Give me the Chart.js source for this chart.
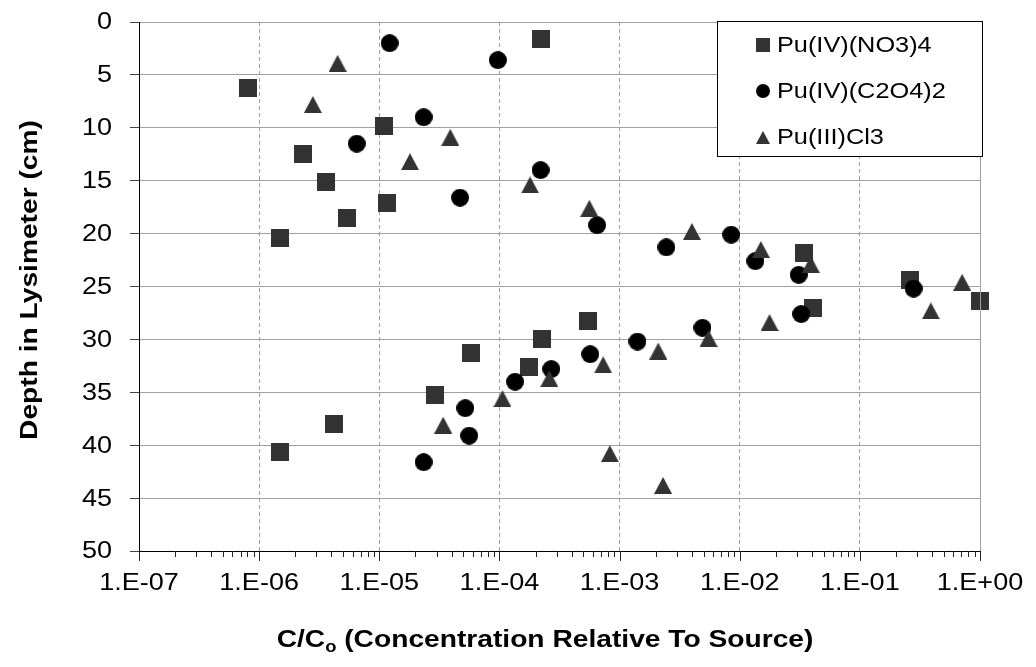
<!DOCTYPE html>
<html>
<head>
<meta charset="utf-8">
<title>Plutonium depth profiles in lysimeter</title>
<script src="https://cdn.jsdelivr.net/npm/chart.js@4.4.1/dist/chart.umd.min.js"></script>
<style>
  html, body { margin: 0; padding: 0; background: #ffffff; }
  #wrap { width: 1036px; height: 667px; position: relative; }
  canvas { display: block; }
</style>
</head>
<body>
<div id="wrap"><canvas id="chart" width="1036" height="667"></canvas></div>
<script>
// ---- data ---------------------------------------------------------------
const seriesNames = ['Pu(IV)(NO3)4', 'Pu(IV)(C2O4)2', 'Pu(III)Cl3'];

// Pu(IV)(NO3)4 : C/Co and depth (cm)
const nitrateConc  = [8.1e-7, 2.2e-4, 1.1e-5, 2.3e-6, 3.6e-6, 1.17e-5, 5.4e-6, 1.5e-6, 1.5e-6, 4.2e-6,
                      5.8e-5, 2.9e-5, 2.26e-4, 1.76e-4, 5.5e-4, 3.4e-2, 0.26, 1.0, 4.1e-2];
const nitrateDepth = [6.2, 1.6, 9.8, 12.5, 15.1, 17.1, 18.5, 20.4, 40.6, 38.0,
                      31.3, 35.3, 30.0, 32.6, 28.3, 21.8, 24.4, 26.4, 27.0];

// Pu(IV)(C2O4)2
const oxalateConc  = [1.22e-5, 9.7e-5, 2.34e-5, 6.5e-6, 2.2e-4, 4.7e-5, 6.5e-4, 2.45e-3, 8.5e-3, 1.35e-2,
                      3.1e-2, 0.28, 3.25e-2, 4.9e-3, 1.41e-3, 5.7e-4, 2.34e-5, 5.2e-5, 5.6e-5, 1.35e-4, 2.7e-4];
const oxalateDepth = [2.0, 3.6, 9.0, 11.5, 14.0, 16.6, 19.2, 21.3, 20.1, 22.6,
                      23.9, 25.2, 27.6, 28.9, 30.2, 31.4, 41.6, 36.5, 39.1, 34.0, 32.8];

// Pu(III)Cl3
const chlorideConc  = [4.5e-6, 2.8e-6, 3.9e-5, 1.8e-5, 1.8e-4, 5.6e-4, 4.0e-3, 1.5e-2, 3.9e-2, 0.71,
                       1.0, 0.39, 1.77e-2, 5.5e-3, 2.1e-3, 7.3e-4, 8.3e-4, 2.3e-3, 3.4e-5, 1.06e-4, 2.6e-4];
const chlorideDepth = [3.9, 7.8, 10.9, 13.2, 15.4, 17.6, 19.8, 21.5, 22.9, 24.6,
                       26.4, 27.3, 28.4, 29.9, 31.1, 32.4, 40.8, 43.8, 38.1, 35.6, 33.7];

// axis ticks
const xTickValues = [1e-7, 1e-6, 1e-5, 1e-4, 1e-3, 1e-2, 1e-1, 1];
const xTickLabels = ['1.E-07', '1.E-06', '1.E-05', '1.E-04', '1.E-03', '1.E-02', '1.E-01', '1.E+00'];
const yTickValues = [0, 5, 10, 15, 20, 25, 30, 35, 40, 45, 50];
const yTickLabels = ['0', '5', '10', '15', '20', '25', '30', '35', '40', '45', '50'];

const yTitle = 'Depth in Lysimeter (cm)';
const xTitleParts = ['C/C', 'o', ' (Concentration Relative To Source)'];

// ---- marker sprites -----------------------------------------------------
function sprite(w, h, draw) {
  const c = document.createElement('canvas');
  c.width = w; c.height = h;
  const g = c.getContext('2d');
  draw(g, w, h);
  return c;
}
function squareSprite(s) {
  return sprite(s, s, (g, w, h) => { g.fillStyle = '#333333'; g.fillRect(0, 0, w, h); });
}
function circleSprite(d) {
  return sprite(d, d, (g, w, h) => {
    g.fillStyle = '#000000'; g.beginPath(); g.arc(w / 2, h / 2, w / 2, 0, Math.PI * 2); g.fill();
  });
}
function triangleSprite(w, h) {
  return sprite(w, h, (g) => {
    g.fillStyle = '#333333'; g.beginPath();
    g.moveTo(w / 2, 0); g.lineTo(w, h); g.lineTo(0, h); g.closePath(); g.fill();
  });
}
const markers = [squareSprite(18), circleSprite(18), triangleSprite(18, 17)];
const legendMarkers = [squareSprite(14), circleSprite(14), triangleSprite(14, 13)];

const toPoints = (xs, ys) => xs.map((x, i) => ({ x: x, y: ys[i] }));

// ---- text helpers (horizontally widened type) -------------------------------
const STRETCH = 1.15;
const FONT_FAMILY = '"Liberation Sans", Arial, sans-serif';

function widenedText(ctx, text, x, y, align, font, sx) {
  ctx.save();
  ctx.font = font;
  ctx.textBaseline = 'middle';
  ctx.textAlign = 'left';
  const w = ctx.measureText(text).width * sx;
  const left = align === 'center' ? x - w / 2 : (align === 'right' ? x - w : x);
  ctx.translate(left, y);
  ctx.scale(sx, 1);
  ctx.fillStyle = '#000000';
  ctx.fillText(text, 0, 0);
  ctx.restore();
}

// ---- decorations: tick labels, minor ticks, titles, legend ------------------
const decorations = {
  id: 'decorations',
  afterDraw(chart) {
    const ctx = chart.ctx;
    const xs = chart.scales.x, ys = chart.scales.y;
    const area = chart.chartArea;

    // solid right frame line
    ctx.save();
    ctx.strokeStyle = '#a0a0a0'; ctx.lineWidth = 1;
    ctx.beginPath();
    ctx.moveTo(Math.round(area.right) + 0.5, area.top);
    ctx.lineTo(Math.round(area.right) + 0.5, area.bottom);
    ctx.stroke();
    ctx.restore();

    // log-axis tick marks below the x axis
    ctx.save();
    ctx.strokeStyle = '#222222'; ctx.lineWidth = 1;
    ctx.beginPath();
    for (let e = -7; e <= 0; e++) {
      const px = Math.round(xs.getPixelForValue(Math.pow(10, e))) + 0.5;
      ctx.moveTo(px, area.bottom); ctx.lineTo(px, area.bottom + 10);
      if (e < 0) {
        for (let k = 2; k <= 9; k++) {
          const mx = Math.round(xs.getPixelForValue(k * Math.pow(10, e))) + 0.5;
          ctx.moveTo(mx, area.bottom); ctx.lineTo(mx, area.bottom + 6);
        }
      }
    }
    ctx.stroke();
    ctx.restore();

    // tick labels
    const tickFont = '23.5px ' + FONT_FAMILY;
    xTickValues.forEach((v, i) => {
      widenedText(ctx, xTickLabels[i], xs.getPixelForValue(v), 584, 'center', tickFont, STRETCH);
    });
    yTickValues.forEach((v, i) => {
      widenedText(ctx, yTickLabels[i], 112, ys.getPixelForValue(v) + 1, 'right', tickFont, STRETCH);
    });

    // x title with subscript o
    const bigFont = 'bold 24.5px ' + FONT_FAMILY;
    const subFont = 'bold 16px ' + FONT_FAMILY;
    ctx.save();
    ctx.font = bigFont;
    const w0 = ctx.measureText(xTitleParts[0]).width;
    const w2 = ctx.measureText(xTitleParts[2]).width;
    ctx.font = subFont;
    const w1 = ctx.measureText(xTitleParts[1]).width;
    ctx.restore();
    const totalW = (w0 + w1 + w2) * STRETCH;
    let tx = 545 - totalW / 2;
    const ty = 640;
    widenedText(ctx, xTitleParts[0], tx, ty, 'left', bigFont, STRETCH);
    tx += w0 * STRETCH;
    widenedText(ctx, xTitleParts[1], tx, ty + 8, 'left', subFont, STRETCH);
    tx += w1 * STRETCH;
    widenedText(ctx, xTitleParts[2], tx, ty, 'left', bigFont, STRETCH);

    // y title, rotated
    ctx.save();
    ctx.translate(30, 280);
    ctx.rotate(-Math.PI / 2);
    widenedText(ctx, yTitle, 0, 0, 'center', bigFont, STRETCH);
    ctx.restore();

    // legend
    ctx.save();
    ctx.fillStyle = '#ffffff';
    ctx.fillRect(717, 21, 266, 136);
    ctx.strokeStyle = '#000000'; ctx.lineWidth = 1;
    ctx.strokeRect(717.5, 21.5, 265, 135);
    ctx.restore();
    const legendFont = '22px ' + FONT_FAMILY;
    seriesNames.forEach((name, i) => {
      const cy = 45 + i * 46;
      const m = legendMarkers[i];
      ctx.drawImage(m, Math.round(763 - m.width / 2), Math.round(cy - m.height / 2));
      widenedText(ctx, name, 777, cy + 1, 'left', legendFont, STRETCH);
    });
  }
};

// ---- chart --------------------------------------------------------------
new Chart(document.getElementById('chart'), {
  type: 'scatter',
  data: {
    datasets: [
      { label: seriesNames[0], data: toPoints(nitrateConc, nitrateDepth),   pointStyle: markers[0], order: 3, clip: false },
      { label: seriesNames[1], data: toPoints(oxalateConc, oxalateDepth),   pointStyle: markers[1], order: 2, clip: false },
      { label: seriesNames[2], data: toPoints(chlorideConc, chlorideDepth), pointStyle: markers[2], order: 1, clip: false }
    ]
  },
  options: {
    responsive: false,
    devicePixelRatio: 1,
    animation: false,
    layout: { padding: { left: 0, right: 56, top: 22, bottom: 0 } },
    plugins: { legend: { display: false }, tooltip: { enabled: false } },
    elements: { point: { radius: 9, hoverRadius: 9 } },
    scales: {
      x: {
        type: 'logarithmic',
        min: xTickValues[0],
        max: xTickValues[xTickValues.length - 1],
        afterBuildTicks: (s) => { s.ticks = xTickValues.map(v => ({ value: v, major: true })); },
        afterFit: (s) => { s.height = 116; },
        ticks: { display: false },
        grid: { color: '#a0a0a0', lineWidth: 1, drawTicks: false },
        border: { display: true, color: '#000000', width: 1, dash: [4, 3] }
      },
      y: {
        type: 'linear',
        reverse: true,
        min: yTickValues[0],
        max: yTickValues[yTickValues.length - 1],
        afterBuildTicks: (s) => { s.ticks = yTickValues.map(v => ({ value: v })); },
        afterFit: (s) => { s.width = 139; },
        ticks: { display: false },
        grid: { color: '#a0a0a0', lineWidth: 1, drawTicks: true, tickLength: 9, tickColor: '#444444' },
        border: { display: true, color: '#000000', width: 1 }
      }
    }
  },
  plugins: [decorations]
});
</script>
</body>
</html>
